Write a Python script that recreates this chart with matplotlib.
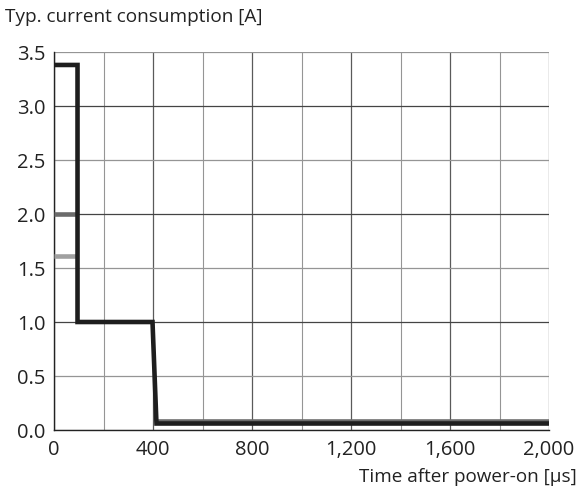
import matplotlib.pyplot as plt
from matplotlib.ticker import MultipleLocator, FuncFormatter

# ---- Data ------------------------------------------------------------------

black_t = [0, 95, 95, 398, 414, 2000]
black_i = [3.38, 3.38, 1.0, 1.0, 0.06, 0.06]

dark_t = [0, 88]
dark_i = [2.0, 2.0]
dark_tail_t = [414, 2000]
dark_tail_i = [0.085, 0.085]

light_t = [0, 88]
light_i = [1.61, 1.61]

x_ticks = [0, 400, 800, 1200, 1600, 2000]
y_ticks = [0.0, 0.5, 1.0, 1.5, 2.0, 2.5, 3.0, 3.5]

plt.rcParams["font.family"] = ["Open Sans", "DejaVu Sans"]

fig = plt.figure(figsize=(5.79, 4.92), dpi=100)
ax = fig.add_axes([54 / 579, 1 - 430 / 492, 495 / 579, 378 / 492])

ax.set_xlim(0, 2000)
ax.set_ylim(0, 3.5)

# grid: minor lighter, major darker
ax.xaxis.set_major_locator(MultipleLocator(400))
ax.xaxis.set_minor_locator(MultipleLocator(200))
ax.yaxis.set_major_locator(MultipleLocator(0.5))
ax.grid(which="minor", axis="x", color="#959595", linewidth=0.8)
for xv in range(0, 2001, 400):
    ax.axvline(xv, color="#5a5a5a", linewidth=0.9, zorder=1)
for yv in y_ticks:
    c = "#444444" if yv in (1.0, 2.0, 3.0) else "#959595"
    ax.axhline(yv, color=c, linewidth=0.9, zorder=1)
ax.set_axisbelow(True)

ax.plot(light_t, light_i, color="#a0a0a0", linewidth=3.3, solid_capstyle="butt", zorder=3)
ax.plot(dark_t, dark_i, color="#6b6b6b", linewidth=3.3, solid_capstyle="butt", zorder=3)
ax.plot(dark_tail_t, dark_tail_i, color="#6b6b6b", linewidth=3.3, solid_capstyle="butt", zorder=3)
ax.plot(black_t, black_i, color="#1e1e1e", linewidth=3.3, solid_joinstyle="miter",
        solid_capstyle="butt", zorder=4)

ax.set_xticks(x_ticks)
ax.set_yticks(y_ticks)
ax.xaxis.set_major_formatter(FuncFormatter(lambda v, p: f"{int(v):,}"))
ax.yaxis.set_major_formatter(FuncFormatter(lambda v, p: f"{v:.1f}"))
ax.tick_params(which="both", length=0, labelsize=14.5, colors="#222222")
ax.tick_params(axis="y", pad=6)
ax.tick_params(axis="x", pad=7)

for s in ["top", "right"]:
    ax.spines[s].set_visible(False)
for s in ["left", "bottom"]:
    ax.spines[s].set_color("#222222")
    ax.spines[s].set_linewidth(1.0)

fig.text(5 / 579, 1 - 17 / 492, "Typ. current consumption [A]", fontsize=13.7,
         color="#222222", ha="left", va="center")
fig.text(577 / 579, 1 - 477 / 492, "Time after power-on [µs]", fontsize=13.6,
         color="#222222", ha="right", va="center")

fig.savefig("out.png", dpi=100)
